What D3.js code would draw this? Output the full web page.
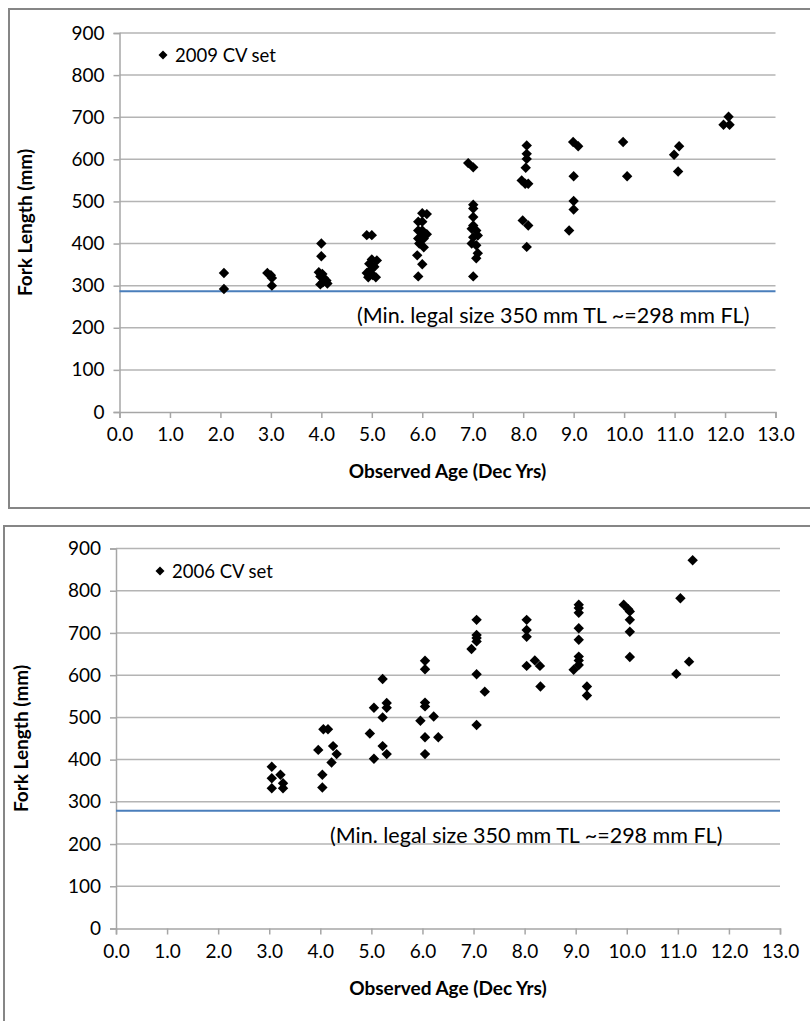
<!DOCTYPE html>
<html>
<head>
<meta charset="utf-8">
<script src="https://cdn.jsdelivr.net/npm/d3@7"></script>
<style>
  html, body { margin: 0; padding: 0; background: #fff; }
  svg { display: block; }
  text { font-family: Lato, "Open Sans", sans-serif; fill: #000; }
</style>
</head>
<body>
<svg id="fig" width="810" height="1021"></svg>
<script>
// 2009 CV set: observed age (decimal years) and fork length (mm)
const ages2009 = [
  2.07, 2.07,
  2.93, 3.00, 3.02, 3.02,
  4.00, 4.00, 3.95, 4.02, 3.98, 4.05, 4.10, 4.03, 4.12, 3.98,
  4.90, 5.00, 5.00, 5.10, 4.95, 5.05, 4.98, 4.90, 5.02, 5.08, 4.93,
  6.00, 6.09, 5.92, 6.00, 5.92, 6.00, 6.00, 6.09, 5.92, 6.03, 5.94, 6.03, 5.90, 6.00, 5.92,
  6.91, 7.01, 7.01, 7.01, 7.01, 7.01, 6.98, 7.07, 7.01, 7.10, 6.98, 7.07, 7.10, 7.07, 7.01,
  8.07, 8.07, 8.07, 8.05, 7.97, 8.04, 8.10, 7.99, 8.10, 8.07,
  8.99, 9.09, 9.00, 9.00, 9.00, 8.91,
  9.98, 10.06,
  10.99, 11.09, 11.07,
  12.07, 11.97, 12.09
];
const lengths2009 = [
  330, 292,
  330, 325, 318, 300,
  400, 370, 332, 328, 322, 318, 312, 308, 305, 303,
  420, 420, 362, 360, 352, 345, 338, 330, 325, 320, 320,
  472, 470, 452, 452, 431, 431, 422, 422, 412, 412, 400, 391, 372, 351, 322,
  591, 581, 492, 483, 463, 443, 435, 431, 415, 419, 400, 396, 377, 365, 322,
  633, 613, 601, 580, 550, 542, 542, 455, 443, 392,
  641, 631, 560, 501, 481, 431,
  641, 560,
  611, 631, 571,
  701, 682, 682
];

// 2006 CV set
const ages2006 = [
  3.05, 3.05, 3.22, 3.05, 3.27, 3.27,
  4.06, 4.15, 3.96, 4.25, 4.32, 4.22, 4.04, 4.04,
  5.22, 5.05, 5.30, 5.30, 5.22, 4.97, 5.22, 5.30, 5.05,
  6.05, 6.05, 6.05, 6.05, 5.96, 6.22, 6.05, 6.31, 6.05,
  7.06, 7.06, 7.06, 7.06, 6.96, 7.06, 7.22, 7.06,
  8.04, 8.04, 8.04, 8.04, 8.20, 8.30, 8.31,
  9.06, 9.06, 9.06, 9.06, 9.06, 9.06, 9.06, 9.06, 8.96, 9.22, 9.22,
  9.94, 10.03, 10.06, 10.06, 10.06, 10.06,
  11.29, 11.05, 11.22, 10.97
];
const lengths2006 = [
  383, 356, 364, 332, 344, 332,
  472, 472, 423, 432, 413, 393, 364, 334,
  591, 523, 534, 523, 500, 462, 432, 413, 402,
  634, 614, 535, 526, 492, 502, 453, 453, 413,
  731, 695, 688, 680, 662, 602, 561, 482,
  731, 707, 691, 622, 635, 622, 573,
  767, 759, 748, 711, 684, 644, 635, 624, 613, 573, 552,
  767, 756, 751, 731, 703, 643,
  872, 782, 632, 603
];

// Axis ticks
const ageTicks = d3.range(0, 14);
const lengthTicks = d3.range(0, 1000, 100);

// Reference line for minimum legal size, and its caption
const legalLine2009 = 287;
const legalLine2006 = 279;
const legalCaption = "(Min. legal size 350 mm TL ~=298 mm FL)";

const svg = d3.select("#fig");

// square diamond marker (equal width and height), r = half diagonal
function diamondPath(r) {
  return `M0,${-r}L${r},0L0,${r}L${-r},0Z`;
}

function drawPanel(cfg) {
  const g = svg.append("g");

  // frame around the panel
  g.append("rect")
    .attr("x", cfg.box[0]).attr("y", cfg.box[1])
    .attr("width", cfg.box[2]).attr("height", cfg.box[3])
    .attr("fill", "#fff").attr("stroke", "#868686").attr("stroke-width", 2);

  const x = d3.scaleLinear().domain([0, 13]).range([cfg.left, cfg.right]);
  const y = d3.scaleLinear().domain([0, 900]).range([cfg.bottom, cfg.top]);

  // horizontal gridlines
  g.append("g").selectAll("line").data(lengthTicks.filter(d => d > 0)).join("line")
    .attr("x1", cfg.left).attr("x2", cfg.right)
    .attr("y1", d => y(d)).attr("y2", d => y(d))
    .attr("stroke", "#b4b4b4").attr("stroke-width", 1.5);

  // y axis
  const yAxis = d3.axisLeft(y).tickValues(lengthTicks).tickSize(6).tickPadding(9)
    .tickFormat(d3.format("d"));
  const ya = g.append("g").attr("transform", `translate(${cfg.left},0)`).call(yAxis);
  ya.select(".domain").attr("stroke", "#a6a6a6").attr("stroke-width", 1.5);
  ya.selectAll(".tick line").attr("stroke", "#a6a6a6").attr("stroke-width", 1.5);
  ya.selectAll(".tick text").attr("font-size", 19).attr("fill", "#000")
    .attr("font-family", "Lato, sans-serif");

  // x axis
  const xAxis = d3.axisBottom(x).tickValues(ageTicks).tickSize(6).tickPadding(10)
    .tickFormat(d3.format(".1f"));
  const xa = g.append("g").attr("transform", `translate(0,${cfg.bottom})`).call(xAxis);
  xa.select(".domain").attr("stroke", "#a6a6a6").attr("stroke-width", 1.5);
  xa.selectAll(".tick line").attr("stroke", "#a6a6a6").attr("stroke-width", 1.5);
  xa.selectAll(".tick text").attr("font-size", 19).attr("fill", "#000")
    .attr("font-family", "Lato, sans-serif");

  // minimum legal size line
  g.append("line")
    .attr("x1", x(0)).attr("x2", x(13))
    .attr("y1", y(cfg.legal)).attr("y2", y(cfg.legal))
    .attr("stroke", "#4a7ebb").attr("stroke-width", 2);

  g.append("text")
    .attr("x", cfg.captionX).attr("y", y(cfg.legal) + 32)
    .attr("font-size", 21.5)
    .text(legalCaption);

  // observations as diamonds
  g.append("g").selectAll("path").data(d3.zip(cfg.ages, cfg.lengths)).join("path")
    .attr("d", diamondPath(5.2))
    .attr("transform", d => `translate(${x(d[0])},${y(d[1])})`)
    .attr("fill", "#000");

  // legend
  g.append("path").attr("d", diamondPath(4.5))
    .attr("transform", `translate(${cfg.legend[0]},${cfg.legend[1]})`).attr("fill", "#000");
  g.append("text").attr("x", cfg.legend[0] + 12).attr("y", cfg.legend[1] + 6.5)
    .attr("font-size", 18.5).text(cfg.name);

  // axis titles
  g.append("text")
    .attr("x", (cfg.left + cfg.right) / 2).attr("y", cfg.bottom + 66)
    .attr("text-anchor", "middle").attr("font-weight", "bold").attr("font-size", 19)
    .text("Observed Age (Dec Yrs)");
  g.append("text")
    .attr("transform", `translate(${cfg.yTitleX},${(cfg.top + cfg.bottom) / 2}) rotate(-90)`)
    .attr("text-anchor", "middle").attr("font-weight", "bold").attr("font-size", 19)
    .text("Fork Length (mm)");
}

drawPanel({
  box: [9, 9, 808, 499],
  left: 119.5, right: 775.5, top: 33, bottom: 412,
  ages: ages2009, lengths: lengths2009, legal: legalLine2009,
  captionX: 357, legend: [163, 55], name: "2009 CV set", yTitleX: 32
});

drawPanel({
  box: [4, 526, 812, 510],
  left: 116, right: 780, top: 548.5, bottom: 928.5,
  ages: ages2006, lengths: lengths2006, legal: legalLine2006,
  captionX: 330, legend: [160, 571], name: "2006 CV set", yTitleX: 28
});
</script>
</body>
</html>
